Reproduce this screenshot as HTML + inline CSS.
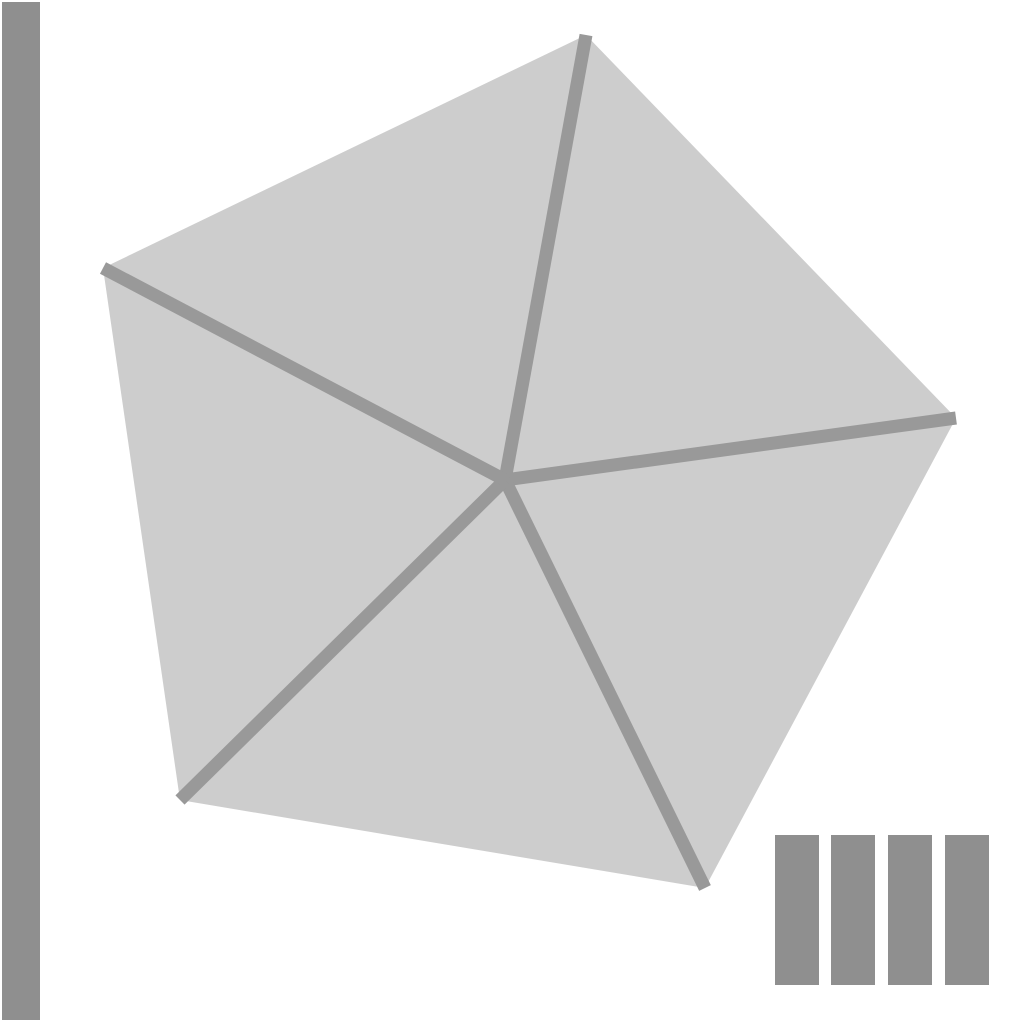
<!DOCTYPE html>
<html><head><meta charset="utf-8"><style>
html,body{margin:0;padding:0;background:#fff;width:1024px;height:1024px;overflow:hidden;font-family:"Liberation Sans",sans-serif}
</style></head><body>
<svg id="chart" width="1024" height="1024" viewBox="0 0 1024 1024" xmlns="http://www.w3.org/2000/svg">
<rect x="2" y="2" width="38" height="1018" fill="#8f8f8f"/>
<g id="bars"></g>
<g id="pent"></g>
</svg>
<script>
const vertexX = [586, 956, 705, 180, 103];
const vertexY = [35, 418, 888, 800, 268];
const centerX = 505, centerY = 480;
const barLefts = [775, 831, 888, 945];
const barHeights = [150, 150, 150, 150];
const NS = 'http://www.w3.org/2000/svg';
const pent = document.getElementById('pent');
const poly = document.createElementNS(NS, 'polygon');
poly.setAttribute('points', vertexX.map((x, i) => x + ',' + vertexY[i]).join(' '));
poly.setAttribute('fill', '#cdcdcd');


pent.appendChild(poly);
vertexX.forEach((x, i) => {
  const l = document.createElementNS(NS, 'line');
  l.setAttribute('x1', centerX); l.setAttribute('y1', centerY);
  l.setAttribute('x2', x); l.setAttribute('y2', vertexY[i]);
  l.setAttribute('stroke', '#999999');
  l.setAttribute('stroke-width', '13');
  
  
  pent.appendChild(l);
});
const bars = document.getElementById('bars');
barLefts.forEach((x, i) => {
  const r = document.createElementNS(NS, 'rect');
  r.setAttribute('x', x); r.setAttribute('y', 985 - barHeights[i]);
  r.setAttribute('width', 44); r.setAttribute('height', barHeights[i]);
  r.setAttribute('fill', '#8f8f8f');
  
  
  bars.appendChild(r);
});
</script>
</body></html>
